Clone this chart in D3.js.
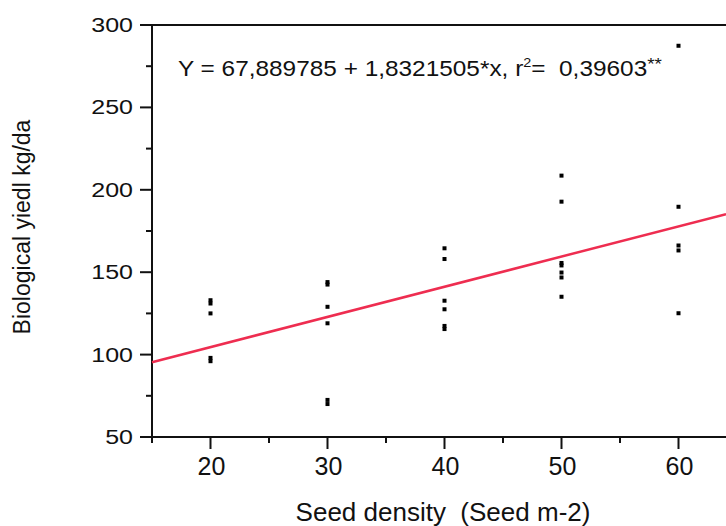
<!DOCTYPE html>
<html>
<head>
<meta charset="utf-8">
<script src="https://cdn.jsdelivr.net/npm/d3@7"></script>
<style>
  html, body { margin: 0; padding: 0; background: #fff; }
  svg { display: block; }
  text { font-family: "Liberation Sans", Arial, sans-serif; fill: #111; }
</style>
</head>
<body>
<svg id="chart" width="726" height="526"></svg>
<script>
// ---- data ----
const seedDensity = [
  20, 20, 20, 20, 20,
  30, 30, 30, 30, 30, 30,
  40, 40, 40, 40, 40, 40,
  50, 50, 50, 50, 50, 50, 50,
  60, 60, 60, 60, 60
];
const biologicalYield = [
  133, 131, 125, 98, 96,
  144, 142.5, 129, 119, 72.5, 70,
  164.5, 158, 132.7, 127.5, 117.4, 115.5,
  208.6, 192.8, 155.6, 154.1, 149.8, 146.8, 135.1,
  287.4, 189.7, 166.2, 163.2, 125.1
];
const regressionIntercept = 67.889785;
const regressionSlope = 1.8321505;
const xDomain = [15, 65];
const yDomain = [50, 300];
const xMajorTicks = [20, 30, 40, 50, 60];
const xMinorTicks = [15, 25, 35, 45, 55, 65];
const yMajorTicks = [50, 100, 150, 200, 250, 300];
const yMinorTicks = [75, 125, 175, 225, 275];
const equationParts = ["Y = 67,889785 + 1,8321505*x, r", "2", "=  0,39603", "**"];
const xTitle = "Seed density  (Seed m-2)";
const yTitle = "Biological yiedl kg/da";

// ---- layout ----
const svg = d3.select("#chart");
const mLeft = 152, mTop = 25, mBottom = 437;
const x = d3.scaleLinear().domain(xDomain).range([mLeft, mLeft + 50 * 11.7]);
const y = d3.scaleLinear().domain(yDomain).range([mBottom, mTop]);
const xEnd = 726;

const ink = "#111";

// frame: top line
svg.append("line").attr("x1", mLeft).attr("x2", xEnd).attr("y1", mTop).attr("y2", mTop)
  .attr("stroke", ink).attr("stroke-width", 2);

// x axis
const xAxis = svg.append("g").attr("transform", `translate(0,${mBottom})`);
xAxis.append("line").attr("x1", mLeft - 1).attr("x2", xEnd).attr("y1", 0).attr("y2", 0)
  .attr("stroke", ink).attr("stroke-width", 2);
xAxis.selectAll("line.maj").data(xMajorTicks).join("line").attr("class", "maj")
  .attr("x1", d => x(d)).attr("x2", d => x(d)).attr("y1", 0).attr("y2", 12)
  .attr("stroke", ink).attr("stroke-width", 2);
xAxis.selectAll("line.min").data(xMinorTicks).join("line").attr("class", "min")
  .attr("x1", d => x(d)).attr("x2", d => x(d)).attr("y1", 0).attr("y2", 6)
  .attr("stroke", ink).attr("stroke-width", 2);
xAxis.selectAll("text").data(xMajorTicks).join("text")
  .attr("x", d => x(d) + 1).attr("y", 38)
  .attr("text-anchor", "middle").attr("font-size", 25)
  .text(d => d);

// y axis
const yAxis = svg.append("g").attr("transform", `translate(${mLeft},0)`);
yAxis.append("line").attr("x1", 0).attr("x2", 0).attr("y1", mTop - 1).attr("y2", mBottom + 1)
  .attr("stroke", ink).attr("stroke-width", 2);
yAxis.selectAll("line.maj").data(yMajorTicks).join("line").attr("class", "maj")
  .attr("x1", -12).attr("x2", 0).attr("y1", d => y(d)).attr("y2", d => y(d))
  .attr("stroke", ink).attr("stroke-width", 2);
yAxis.selectAll("line.min").data(yMinorTicks).join("line").attr("class", "min")
  .attr("x1", -6).attr("x2", 0).attr("y1", d => y(d)).attr("y2", d => y(d))
  .attr("stroke", ink).attr("stroke-width", 2);
yAxis.selectAll("text").data(yMajorTicks).join("text")
  .attr("transform", d => `translate(-19,${y(d) + 7}) scale(1.25,1)`)
  .attr("text-anchor", "end").attr("font-size", 20)
  .text(d => d);

// axis titles
svg.append("text").attr("x", 443).attr("y", 521).attr("text-anchor", "middle")
  .attr("font-size", 26).style("white-space", "pre").text(xTitle);
svg.append("text").attr("transform", "translate(30,227) rotate(-90)")
  .attr("text-anchor", "middle").attr("font-size", 23).text(yTitle);

// regression line
const lineData = [xDomain[0], x.invert(xEnd)].map(v => [v, regressionIntercept + regressionSlope * v]);
svg.append("path")
  .attr("d", d3.line().x(d => x(d[0])).y(d => y(d[1]))(lineData))
  .attr("stroke", "#ee2d50").attr("stroke-width", 2.5).attr("fill", "none");

// points
svg.selectAll("rect.pt").data(seedDensity.map((d, i) => [d, biologicalYield[i]]))
  .join("rect").attr("class", "pt")
  .attr("x", d => x(d[0]) - 2).attr("y", d => y(d[1]) - 2)
  .attr("width", 4).attr("height", 4).attr("fill", "#000");

// equation
const eq = svg.append("text").attr("x", 0).attr("y", 0).attr("font-size", 22)
  .style("white-space", "pre");
eq.append("tspan").text(equationParts[0]);
eq.append("tspan").attr("font-size", 13).attr("dy", -9).text(equationParts[1]);
eq.append("tspan").attr("dy", 9).text(equationParts[2]);
eq.append("tspan").attr("font-size", 17).attr("dy", -6).text(equationParts[3]);
const eqW = eq.node().getComputedTextLength();
const eqScale = 484 / eqW;
eq.attr("transform", `translate(178,76) scale(${eqScale},1)`);
</script>
</body>
</html>
